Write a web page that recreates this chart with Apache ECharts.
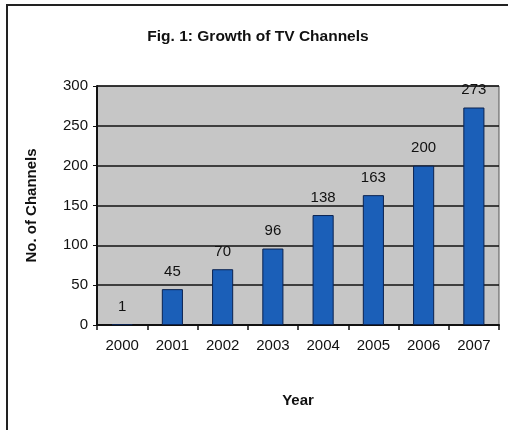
<!DOCTYPE html>
<html>
<head>
<meta charset="utf-8">
<script src="https://cdn.jsdelivr.net/npm/echarts@6/dist/echarts.min.js"></script>
<style>
html,body{margin:0;padding:0;background:#fff;}
#chart{width:508px;height:430px;}
</style>
</head>
<body>
<div id="chart"></div>
<script>
// data
var years = ["2000", "2001", "2002", "2003", "2004", "2005", "2006", "2007"];
var channels = [1, 45, 70, 96, 138, 163, 200, 273];
var yTicks = [0, 50, 100, 150, 200, 250, 300];

var chart = echarts.init(document.getElementById('chart'));
var font = 'Liberation Sans, Arial, sans-serif';
var option = {
	backgroundColor: '#fff',
	animation: false,
	title: {
		text: 'Fig. 1: Growth of TV Channels',
		left: 253, top: 24, textAlign: 'center',
		textStyle: {fontFamily: font, fontSize: 15.5, fontWeight: 'bold', color: '#111'}
	},
	graphic: [
		{type: 'rect', shape: {x: 7, y: 5, width: 520, height: 440}, style: {fill: null, stroke: '#222', lineWidth: 2}, silent: true}
	],
	grid: {left: 97, right: 9, top: 86, bottom: 105, show: true, backgroundColor: '#c6c6c6', borderColor: '#555', borderWidth: 1},
	xAxis: {
		type: 'category',
		data: years,
		name: 'Year',
		nameLocation: 'middle',
		nameGap: 68,
		nameTextStyle: {fontFamily: font, fontSize: 15, fontWeight: 'bold', color: '#111'},
		axisLine: {lineStyle: {color: '#111', width: 2}},
		axisTick: {show: true, alignWithLabel: false, length: 5, lineStyle: {color: '#111', width: 1.5}},
		axisLabel: {fontFamily: font, fontSize: 15, color: '#111', margin: 13}
	},
	yAxis: {
		type: 'value',
		min: 0, max: 300, interval: 50,
		name: 'No. of Channels',
		nameLocation: 'middle',
		nameGap: 58,
		nameRotate: 90,
		nameTextStyle: {fontFamily: font, fontSize: 15, fontWeight: 'bold', color: '#111'},
		axisLine: {show: true, lineStyle: {color: '#111', width: 2}},
		axisTick: {show: true, length: 4, lineStyle: {color: '#111'}},
		axisLabel: {fontFamily: font, fontSize: 15, color: '#111', margin: 9,
			formatter: function(v){ return yTicks.indexOf(v) >= 0 ? String(v) : ''; }},
		splitLine: {show: true, lineStyle: {color: '#111', width: 1.5}}
	},
	series: [{
		type: 'bar',
		data: channels,
		barWidth: '42%',
		itemStyle: {color: '#1b5fb8', borderColor: '#0a2250', borderWidth: 1},
		label: {show: true, position: 'top', distance: 10, fontFamily: font, fontSize: 15, color: '#111'}
	}]
};
chart.setOption(option);
</script>
</body>
</html>
